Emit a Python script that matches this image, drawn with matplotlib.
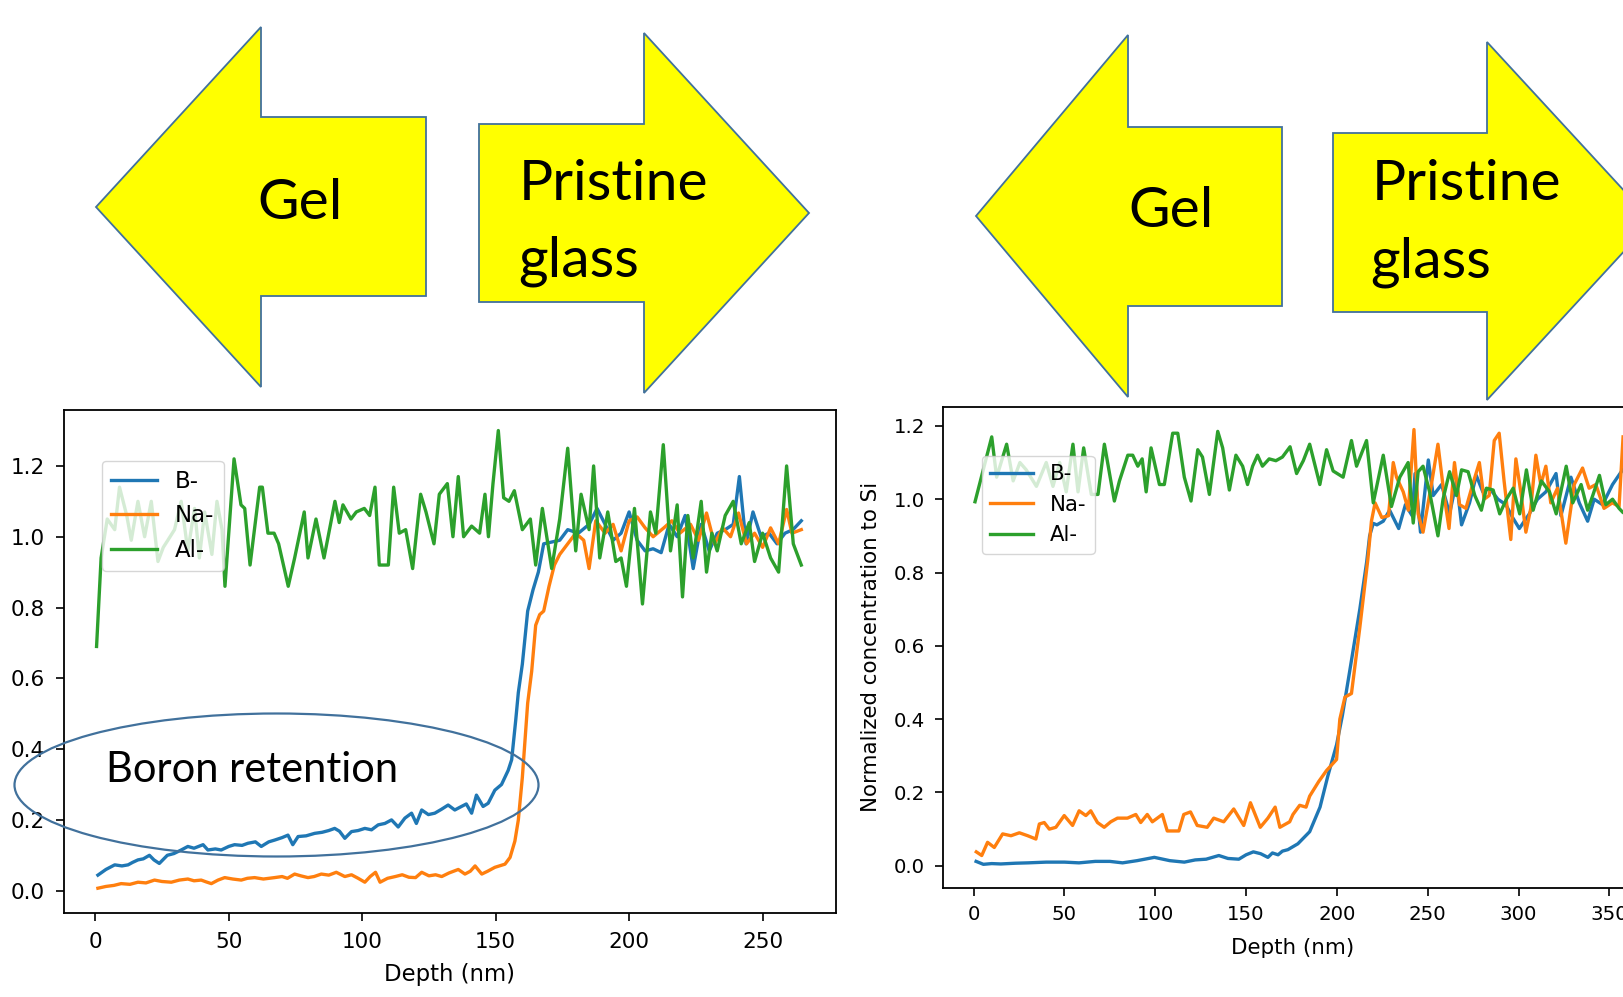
import matplotlib
matplotlib.use('Agg')
import matplotlib.pyplot as plt
from matplotlib.patches import Polygon, Ellipse

# ---- left profile (gel with boron retention) ----
left_b_depth = [1, 4, 7.3, 10, 12.3, 14, 16, 18, 20.3, 22, 24, 27, 29.5, 32.2, 34.7, 37, 40.4, 42.2, 45, 47.2,
                50, 52.2, 55, 57.2, 60, 62.2, 65, 67.2, 70, 72.2, 74, 76, 79, 82.2, 85, 87.5, 89.7, 91.5, 93.5, 96,
                98.5, 101, 103.5, 106, 108.5, 111, 113.5, 116, 118.5, 120.3, 122.3, 124.8, 127.2, 129.7, 132.2,
                134.7, 137.2, 139, 141, 142.8, 145.3, 147.2, 149.7, 152.2, 154.7, 156, 157.5, 158.5, 160, 162, 164,
                166, 168, 171, 174, 177, 181, 185, 188, 191, 194, 197, 200, 203, 206, 209, 212, 215, 218, 221, 224,
                227, 230, 233, 236, 239, 241.3, 243.8, 246.4, 249.4, 252.4, 255.4, 258.4, 261.4, 264.5]
left_b = [0.044, 0.06, 0.073, 0.07, 0.073, 0.08, 0.087, 0.09, 0.10, 0.087, 0.077, 0.10, 0.105, 0.115, 0.125, 0.12,
          0.13, 0.115, 0.118, 0.115, 0.125, 0.13, 0.128, 0.134, 0.138, 0.125, 0.138, 0.143, 0.15, 0.157, 0.13, 0.153,
          0.155, 0.162, 0.165, 0.17, 0.176, 0.168, 0.148, 0.167, 0.17, 0.176, 0.172, 0.186, 0.19, 0.20, 0.18, 0.205,
          0.219, 0.19, 0.228, 0.215, 0.219, 0.23, 0.242, 0.228, 0.238, 0.245, 0.219, 0.27, 0.238, 0.247, 0.284,
          0.30, 0.34, 0.37, 0.48, 0.56, 0.64, 0.79, 0.85, 0.90, 0.98, 0.985, 0.99, 1.02, 1.01, 1.035, 1.08, 1.035,
          0.99, 1.01, 1.07, 0.99, 0.96, 0.966, 0.955, 1.035, 1.0, 1.06, 0.91, 1.035, 0.96, 1.01, 1.02, 1.035, 1.17,
          0.98, 1.07, 1.0, 1.01, 0.98, 1.01, 1.02, 1.045]

left_na_depth = [1, 4, 7, 9.7, 13, 16, 19, 22.2, 25, 28.5, 31.5, 34.7, 37, 39.7, 41.5, 43.5, 46, 48.5, 51.5, 54.7,
                 57, 59.7, 63, 67.2, 70, 72, 74.7, 77, 79.7, 82, 84.7, 87.5, 90.3, 93.5, 96, 98.5, 101, 103, 105,
                 106.7, 109.5, 112.4, 115, 117.5, 120, 122.3, 125, 127.5, 129.8, 132.5, 136, 138.5, 140.5, 142.3,
                 144.8, 147, 149.7, 153.5, 155.4, 157.2, 158.5, 160, 162, 163.5, 165, 166.5, 168, 170, 172, 174,
                 177, 180, 183, 185, 187.5, 191, 194, 197, 200, 203, 206, 209, 213, 216, 219, 223, 226, 229, 232,
                 235, 238, 241, 244, 247, 250, 253, 256, 259, 261, 264.5]
left_na = [0.007, 0.012, 0.015, 0.02, 0.018, 0.024, 0.022, 0.03, 0.026, 0.024, 0.03, 0.033, 0.028, 0.03, 0.025,
           0.02, 0.03, 0.037, 0.033, 0.03, 0.035, 0.037, 0.033, 0.037, 0.04, 0.035, 0.047, 0.042, 0.037, 0.04, 0.047,
           0.044, 0.052, 0.04, 0.045, 0.035, 0.024, 0.04, 0.052, 0.024, 0.035, 0.04, 0.045, 0.038, 0.037, 0.052,
           0.042, 0.045, 0.04, 0.05, 0.06, 0.047, 0.055, 0.07, 0.047, 0.055, 0.066, 0.075, 0.094, 0.14, 0.20, 0.32,
           0.53, 0.62, 0.75, 0.78, 0.79, 0.86, 0.92, 0.95, 0.98, 1.01, 0.99, 0.91, 1.045, 1.01, 1.035, 0.96, 1.045,
           1.056, 1.025, 1.0, 1.025, 1.045, 1.01, 1.035, 0.99, 1.067, 0.98, 1.025, 1.0, 1.067, 0.98, 1.01, 0.97,
           1.025, 0.98, 1.077, 1.01, 1.02]

left_al_depth = [0.5, 2.2, 4.5, 7.3, 9.1, 11.8, 13.5, 16, 18.5, 21, 23.5, 25.5, 27.2, 29.7, 32.2, 34.7, 37.2, 39,
                 41, 43.7, 45.6, 47.5, 48.6, 52, 54.6, 56, 58, 61.6, 62.6, 64.7, 67, 68.7, 72.3, 74.7, 78.3, 79.7,
                 82.7, 85.7, 89.8, 91.4, 92.8, 95.8, 97.8, 100.8, 102.8, 104.8, 106.4, 109.8, 111.8, 113.9, 116.3,
                 118.9, 121.9, 123.9, 126.9, 128.9, 131.9, 134, 136, 138, 141, 144, 146, 147.3, 149, 151, 153, 155,
                 157, 160, 163, 165, 167.5, 171, 174, 177, 180, 182, 185, 186.7, 189, 192, 195, 197, 199, 202, 205,
                 208, 210, 212.8, 215.5, 218, 220, 222, 224, 227, 229, 231, 233, 236, 239, 242, 245, 247, 250, 253,
                 256, 259, 261.5, 264.5]
left_al = [0.69, 0.94, 1.05, 1.02, 1.14, 1.06, 0.99, 1.10, 1.0, 1.10, 0.93, 0.97, 0.99, 1.02, 1.10, 0.96, 1.08,
           0.94, 1.07, 0.95, 1.10, 1.02, 0.86, 1.22, 1.09, 1.08, 0.92, 1.14, 1.14, 1.01, 1.01, 0.98, 0.86, 0.94, 1.07,
           0.94, 1.05, 0.94, 1.10, 1.04, 1.09, 1.05, 1.07, 1.08, 1.06, 1.14, 0.92, 0.92, 1.14, 1.01, 1.02, 0.91, 1.12,
           1.07, 0.98, 1.12, 1.15, 1.0, 1.17, 1.0, 1.03, 1.01, 1.12, 1.0, 1.15, 1.30, 1.11, 1.10, 1.13, 1.02, 1.05,
           0.92, 1.08, 0.91, 1.05, 1.25, 0.96, 1.12, 1.02, 1.2, 0.94, 1.07, 0.93, 0.94, 0.86, 1.08, 0.81, 1.07, 1.01,
           1.26, 0.96, 1.09, 0.83, 1.06, 0.94, 1.10, 0.9, 1.01, 0.96, 1.06, 1.1, 0.98, 1.04, 0.93, 1.01, 0.94, 0.9,
           1.2, 0.98, 0.92]

# ---- right profile ----
right_b_depth = [1.4, 5.4, 10, 15, 23, 30, 40, 50, 58, 67, 75, 82, 90, 99.5, 108, 116, 122, 128, 135, 140, 146,
                 150, 154, 158, 162, 164.5, 167.6, 170, 173, 178.5, 185, 190.7, 195, 199.8, 203, 207, 212.6, 216.4,
                 218, 220, 222, 225.5, 229, 234, 237.7, 241.4, 243, 246, 250.3, 253, 257.6, 262, 265.8, 268.6, 273,
                 276.7, 280.3, 284, 288.6, 293, 296.7, 300.4, 305.9, 310.4, 315, 320.6, 323.3, 328.8, 333.4, 338,
                 341.6, 346.2, 351.7, 357.2]
right_b = [0.012, 0.004, 0.006, 0.005, 0.007, 0.008, 0.01, 0.01, 0.008, 0.012, 0.012, 0.008, 0.014, 0.023, 0.014,
           0.01, 0.016, 0.018, 0.028, 0.02, 0.018, 0.03, 0.038, 0.033, 0.023, 0.035, 0.03, 0.04, 0.044, 0.06, 0.093,
           0.16, 0.245, 0.33, 0.41, 0.53, 0.70, 0.83, 0.90, 0.934, 0.93, 0.94, 0.97, 0.92, 0.985, 0.955, 1.07, 0.91,
           1.107, 1.01, 1.04, 0.96, 1.05, 0.93, 0.99, 1.065, 1.02, 1.03, 1.0, 0.985, 0.95, 0.92, 0.96, 1.0, 1.02,
           1.07, 0.955, 1.06, 0.99, 0.94, 1.0, 0.985, 1.04, 1.08]

right_na_depth = [1.5, 4.5, 7.7, 11.4, 16, 20.6, 25.2, 29.8, 34.3, 36.2, 38.9, 41.7, 45.3, 49.9, 54.5, 58.1, 61.8,
                  64.5, 68.2, 71.9, 75.5, 79.2, 84.7, 89.3, 92, 95.6, 98.4, 103.9, 106.6, 113, 115.7, 119.4, 123.1,
                  128.6, 132.2, 137.7, 143.2, 148.7, 152.4, 157.8, 162, 166, 168.6, 174, 175.8, 179.5, 183, 185,
                  190, 194.3, 199.8, 201.6, 204.4, 208, 212.6, 217, 219, 221, 224.7, 228.4, 231, 232.8, 236.5, 239.3,
                  242.4, 244.7, 247.4, 252, 255.6, 259.3, 261.7, 264.7, 267.5, 271, 274.7, 278.4, 281, 283.8, 286.6,
                  289.3, 292, 295.7, 298.5, 301.2, 304, 306.7, 309.5, 312.2, 315, 317.7, 321.4, 326, 330.6, 335.2,
                  338.8, 342.5, 347, 351.6, 355.3, 357.5]
right_na = [0.038, 0.028, 0.064, 0.05, 0.087, 0.082, 0.09, 0.082, 0.073, 0.114, 0.118, 0.10, 0.105, 0.137, 0.11,
            0.15, 0.137, 0.15, 0.118, 0.105, 0.12, 0.13, 0.13, 0.14, 0.118, 0.14, 0.12, 0.14, 0.095, 0.095, 0.14,
            0.147, 0.11, 0.105, 0.13, 0.12, 0.155, 0.11, 0.172, 0.105, 0.13, 0.16, 0.105, 0.12, 0.14, 0.165, 0.16,
            0.19, 0.23, 0.26, 0.29, 0.40, 0.46, 0.47, 0.65, 0.835, 0.94, 0.99, 0.95, 0.955, 1.10, 1.06, 1.02, 0.97,
            1.19, 0.96, 0.91, 1.04, 1.15, 1.0, 0.92, 1.10, 0.985, 0.975, 1.04, 1.10, 1.0, 1.01, 1.16, 1.18, 1.05,
            0.89, 1.11, 1.02, 0.91, 0.975, 1.12, 1.04, 1.09, 0.99, 1.03, 0.88, 1.04, 1.085, 1.03, 1.04, 0.975, 0.99,
            0.98, 1.17]

right_al_depth = [0.8, 10, 12.7, 18.2, 21.8, 25.5, 29, 34.6, 40, 43.7, 47.4, 51, 54.7, 57.5, 60.6, 64.8, 68.5, 72,
                  77.5, 80.3, 84.9, 87.6, 90.4, 92.8, 95, 97.7, 102.3, 105, 109.6, 112.4, 116, 119.7, 123.4, 126,
                  129.8, 134.4, 137.1, 140.8, 144.4, 148.1, 150.8, 153.6, 156.3, 159, 162.7, 166.4, 170, 174.2,
                  177.8, 181.5, 185, 190.6, 194.3, 197.9, 203.4, 208, 210.8, 216.3, 220, 225.5, 230, 234.6, 239.2,
                  242, 244.7, 247.4, 251, 255.6, 258.4, 262, 265.8, 268.6, 272.2, 275.9, 279.5, 282.3, 286, 289.6,
                  293.3, 297, 300.6, 304.3, 308, 312.5, 317, 320.7, 326.2, 329.8, 334.4, 338, 340.8, 344.5, 348,
                  351.7, 355.3, 357.2]
right_al = [0.993, 1.17, 1.06, 1.15, 1.05, 1.1, 1.08, 1.035, 1.10, 1.035, 1.10, 1.02, 1.15, 1.02, 1.14, 1.013,
            1.013, 1.15, 0.995, 1.05, 1.12, 1.12, 1.09, 1.11, 1.02, 1.14, 1.04, 1.04, 1.18, 1.18, 1.06, 0.995, 1.135,
            1.115, 1.013, 1.185, 1.14, 1.025, 1.12, 1.09, 1.04, 1.09, 1.12, 1.09, 1.11, 1.105, 1.115, 1.143, 1.07,
            1.105, 1.15, 1.04, 1.135, 1.077, 1.06, 1.16, 1.09, 1.16, 0.99, 1.12, 0.98, 1.06, 1.10, 0.935, 1.075, 1.09,
            1.02, 0.9, 1.0, 1.075, 1.01, 1.08, 1.075, 1.01, 0.97, 1.03, 1.025, 0.96, 1.0, 1.03, 0.96, 1.08, 0.97,
            1.05, 1.02, 0.96, 1.09, 0.99, 1.04, 0.97, 1.01, 1.065, 0.985, 1.0, 0.975, 0.965]

series_labels = ['B-', 'Na-', 'Al-']

# arrow outlines in figure pixels (origin top left)
gel_arrows = [
    [(96, 207), (261, 27), (261, 117), (426, 117), (426, 296), (261, 296), (261, 387)],
    [(976, 216), (1128, 35), (1128, 127), (1282, 127), (1282, 306), (1128, 306), (1128, 397)],
]
glass_arrows = [
    [(479, 124), (644, 124), (644, 33), (809, 213), (644, 393), (644, 302), (479, 302)],
    [(1333, 133), (1487, 133), (1487, 42), (1652, 221), (1487, 400), (1487, 312), (1333, 312)],
]

W, H = 1624, 997
fig = plt.figure(figsize=(W / 100, H / 100), dpi=100)
fig.patch.set_facecolor('white')


def px_axes(left, top, width, height):
    return fig.add_axes([left / W, 1 - (top + height) / H, width / W, height / H])


def draw_profile(ax, data, tick_fs, label_fs, legend_fs, legend_anchor, tick_pad, label_pad):
    for depth, vals, lab in data:
        ax.plot(depth, vals, lw=2.4, label=lab)
    ax.tick_params(labelsize=tick_fs, length=5.5, width=1.2, pad=tick_pad)
    for s in ax.spines.values():
        s.set_linewidth(1.3)
    ax.set_xlabel('Depth (nm)', fontsize=label_fs, labelpad=label_pad)
    ax.legend(loc='upper left', bbox_to_anchor=legend_anchor, borderaxespad=0,
              fontsize=legend_fs, handlelength=2.0)


# left plot
ax1 = px_axes(64, 410, 772, 503)
draw_profile(ax1, [(left_b_depth, left_b, series_labels[0]),
                   (left_na_depth, left_na, series_labels[1]),
                   (left_al_depth, left_al, series_labels[2])],
             15.5, 16.4, 16.5, (0.049, 0.899), 8.5, 7.5)
ax1.set_xlim(-11.7, 277.5)
ax1.set_ylim(-0.063, 1.358)
ax1.set_xticks([0, 50, 100, 150, 200, 250])
ax1.set_yticks([0.0, 0.2, 0.4, 0.6, 0.8, 1.0, 1.2])

# right plot, runs off the right edge of the picture
ax2 = px_axes(942.5, 407, 700, 480.6)
draw_profile(ax2, [(right_b_depth, right_b, series_labels[0]),
                   (right_na_depth, right_na, series_labels[1]),
                   (right_al_depth, right_al, series_labels[2])],
             14.2, 15.4, 15.3, (0.056, 0.899), 7, 10)
ax2.set_xlim(-17.1, -17.1 + 700 / 1.8168)
ax2.set_ylim(-0.0595, 1.2515)
ax2.set_xticks([0, 50, 100, 150, 200, 250, 300, 350])
ax2.set_yticks([0.0, 0.2, 0.4, 0.6, 0.8, 1.0, 1.2])
ax2.set_ylabel('Normalized concentration to Si', fontsize=15.4, labelpad=9)

# overlay with the slide shapes
ov = fig.add_axes([0, 0, 1, 1])
ov.set_xlim(0, W)
ov.set_ylim(H, 0)
ov.axis('off')
ov.patch.set_alpha(0)

edge = '#41719C'
for pts in gel_arrows + glass_arrows:
    ov.add_patch(Polygon(pts, closed=True, facecolor='#FFFF00', edgecolor=edge, lw=1.3))

big = dict(family='Lato', fontsize=41, color='black', va='baseline', ha='left')
ov.text(257, 219, 'Gel', **big)
ov.text(519, 200, 'Pristine', **big)
ov.text(518, 276, 'glass', **big)
ov.text(1128, 227, 'Gel', **big)
ov.text(1372, 200, 'Pristine', **big)
ov.text(1370, 277, 'glass', **big)

ov.add_patch(Ellipse((276.5, 785), 524, 143, facecolor='none', edgecolor=edge, lw=1.6))
ov.text(106, 782, 'Boron retention', family='Lato', fontsize=30, color='black', va='baseline', ha='left')

fig.savefig('out.png', dpi=100)
